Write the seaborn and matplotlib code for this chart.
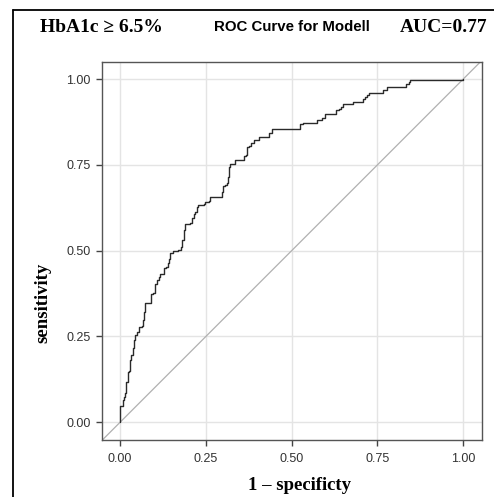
import matplotlib
matplotlib.use("Agg")
import matplotlib.pyplot as plt
from matplotlib.lines import Line2D
import seaborn as sns
import pandas as pd

# ROC curve vertices (1 - specificity, sensitivity)
fpr = [0.000, 0.000, 0.008, 0.008, 0.012, 0.014, 0.016, 0.021, 0.023, 0.027,
       0.029, 0.033, 0.037, 0.041, 0.044, 0.049, 0.056, 0.063, 0.066, 0.070,
       0.072, 0.086, 0.089, 0.097, 0.101, 0.107, 0.113, 0.117, 0.124, 0.128,
       0.134, 0.138, 0.142, 0.146, 0.154, 0.170, 0.177, 0.180, 0.185, 0.190,
       0.204, 0.209, 0.216, 0.219, 0.225, 0.228, 0.243, 0.248, 0.258, 0.262,
       0.292, 0.296, 0.299, 0.306, 0.311, 0.313, 0.316, 0.321, 0.335, 0.358,
       0.360, 0.367, 0.369, 0.377, 0.381, 0.389, 0.403, 0.406, 0.432, 0.434,
       0.442, 0.520, 0.525, 0.533, 0.571, 0.573, 0.585, 0.588, 0.598, 0.598,
       0.627, 0.630, 0.639, 0.643, 0.649, 0.675, 0.678, 0.705, 0.709, 0.714,
       0.721, 0.725, 0.763, 0.766, 0.777, 0.779, 0.831, 0.834, 0.841, 0.845,
       1.000]
tpr = [0.000, 0.048, 0.048, 0.064, 0.074, 0.084, 0.118, 0.118, 0.147, 0.149,
       0.181, 0.195, 0.215, 0.239, 0.254, 0.263, 0.276, 0.280, 0.297, 0.322,
       0.346, 0.346, 0.373, 0.377, 0.404, 0.414, 0.424, 0.433, 0.433, 0.448,
       0.453, 0.463, 0.477, 0.492, 0.500, 0.501, 0.511, 0.531, 0.560, 0.577,
       0.581, 0.594, 0.608, 0.613, 0.628, 0.632, 0.636, 0.641, 0.645, 0.655,
       0.657, 0.672, 0.688, 0.691, 0.696, 0.715, 0.744, 0.752, 0.764, 0.764,
       0.776, 0.778, 0.801, 0.805, 0.814, 0.822, 0.822, 0.830, 0.830, 0.844,
       0.856, 0.856, 0.869, 0.873, 0.873, 0.880, 0.882, 0.888, 0.890, 0.898,
       0.898, 0.910, 0.912, 0.919, 0.927, 0.929, 0.932, 0.932, 0.941, 0.948,
       0.953, 0.961, 0.961, 0.968, 0.968, 0.976, 0.976, 0.987, 0.992, 0.997,
       1.000]
ref_line = [-0.06, 1.06]
ticks = [0.00, 0.25, 0.50, 0.75, 1.00]
tick_labels = ["0.00", "0.25", "0.50", "0.75", "1.00"]

sns.set_theme(style="whitegrid")
plt.rcParams['font.family'] = ['Liberation Sans', 'DejaVu Sans']

fig = plt.figure(figsize=(4.94, 4.97), dpi=100)
ax = fig.add_axes([102/494, 1-440/497, (482-102)/494, (440-62)/497])

df = pd.DataFrame({"fpr": fpr, "tpr": tpr})
sns.lineplot(data=df, x="fpr", y="tpr", sort=False, estimator=None, ax=ax,
             color="#2a2a2a", linewidth=1.0, drawstyle="steps-post", zorder=3)
ax.plot(ref_line, ref_line, color="#b0b0b0", linewidth=0.9, zorder=2)

ax.set_xlim(-0.053, 1.055)
ax.set_ylim(-0.052, 1.05)
ax.set_xticks(ticks)
ax.set_yticks(ticks)
ax.set_xticklabels(tick_labels)
ax.set_yticklabels(tick_labels)
ax.set_xlabel("")
ax.set_ylabel("")
ax.set_facecolor("white")
ax.grid(True, color="#e4e4e4", linewidth=1.0)
for s in ax.spines.values():
    s.set_visible(True)
    s.set_color("#555555")
    s.set_linewidth(1.0)
ax.tick_params(axis="both", which="major", direction="out", length=4.5, width=1.0,
               color="#444444", labelcolor="#333333", labelsize=9,
               bottom=True, left=True)
ax.tick_params(axis="x", pad=5)
ax.tick_params(axis="y", pad=3.5)

# Outer frame lines (left & top)
fig.add_artist(Line2D([13/494, 13/494], [0, 1-10/497], color="black", linewidth=1.3,
                      transform=fig.transFigure))
fig.add_artist(Line2D([13/494, 1.0], [1-10/497, 1-10/497], color="black", linewidth=1.3,
                      transform=fig.transFigure))

serif = ['Liberation Serif', 'DejaVu Serif']
fig.text(40/494, 1-27/497, "HbA1c ≥ 6.5%", family=serif, fontweight="bold",
         fontsize=14, ha="left", va="center", color="black")
fig.text(292/494, 1-27/497, "ROC Curve for Modell", family=['Liberation Sans', 'DejaVu Sans'],
         fontweight="bold", fontsize=10.8, ha="center", va="center", color="black")
fig.text(400/494, 1-27/497, "AUC=0.77", family=serif, fontweight="bold",
         fontsize=14, ha="left", va="center", color="black")
fig.text(43/494, 1-303/497, "sensitivity", family=serif, fontweight="bold",
         fontsize=13.5, ha="center", va="center", rotation=90, color="black")
fig.text(300/494, 1-486/497, "1 – specificty", family=serif, fontweight="bold",
         fontsize=13.5, ha="center", va="center", color="black")

fig.savefig("out.png", dpi=100, facecolor="white")
